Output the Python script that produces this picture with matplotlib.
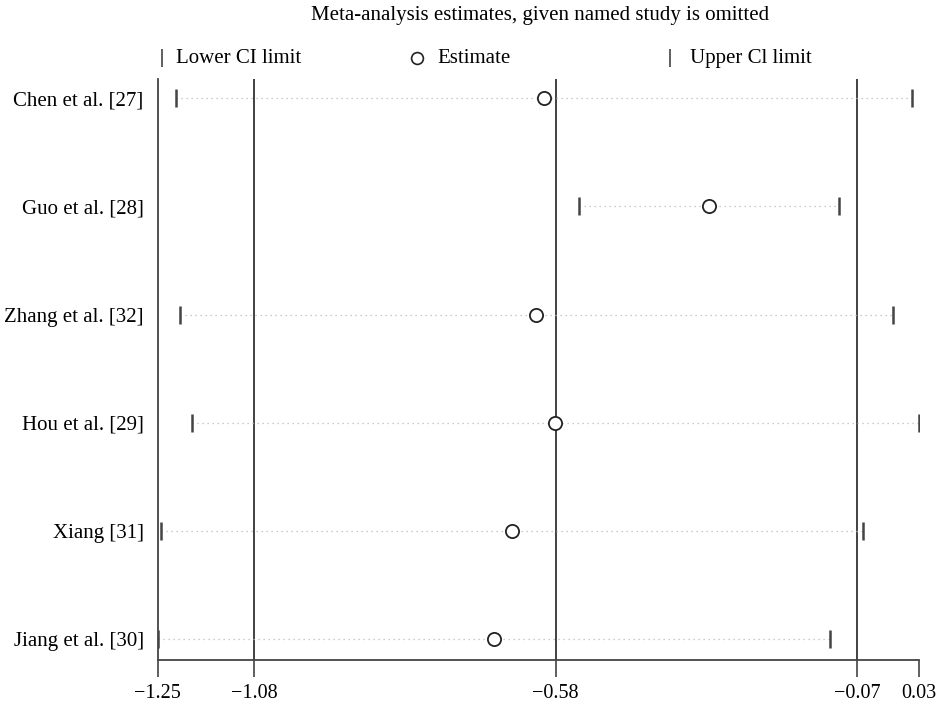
import numpy as np
import matplotlib
matplotlib.use("Agg")
import matplotlib.pyplot as plt

plt.rcParams['font.family'] = ['Liberation Serif', 'DejaVu Serif']

# studies, top to bottom
studies = ["Chen et al. [27]", "Guo et al. [28]", "Zhang et al. [32]",
           "Hou et al. [29]", "Xiang [31]", "Jiang et al. [30]"]
lower = [-1.219, -0.542, -1.213, -1.193, -1.245, -1.250]
estimate = [-0.601, -0.324, -0.614, -0.582, -0.655, -0.685]
upper = [0.0175, -0.105, -0.014, 0.029, -0.064, -0.120]

# overall estimate with CI (reference lines)
overall = [-1.088, -0.581, -0.0745]
tick_pos = [-1.25, -1.088, -0.581, -0.0745, 0.03]
tick_labels = ["\u22121.25", "\u22121.08", "\u22120.58", "\u22120.07", "0.03"]

fig = plt.figure(figsize=(9.38, 7.01), dpi=100)
ax = fig.add_axes([0.168, 0.0585, 0.812, 0.8285])

n = len(studies)
ypos = np.arange(n, 0, -1)

for v in overall:
    ax.axvline(v, color='#333333', lw=1.3, zorder=1)

for y, lo, est, up in zip(ypos, lower, estimate, upper):
    ax.plot([lo, up], [y, y], color='#bbbbbb', lw=0.9, ls=(0, (1, 3)), zorder=2)

ax.plot(lower, ypos, ls='none', marker='|', ms=13.5, mew=1.8, color='#444444', zorder=3)
ax.plot(upper, ypos, ls='none', marker='|', ms=13.5, mew=1.8, color='#444444', zorder=3)
ax.plot(estimate, ypos, ls='none', marker='o', ms=9.5, mfc='white', mec='#222222',
        mew=1.3, zorder=4)

ax.set_xlim(-1.25, 0.03)
ax.set_ylim(0.81, n + 0.176)
ax.set_xticks(tick_pos)
ax.set_xticklabels(tick_labels, fontsize=14.5)
ax.set_yticks(ypos)
ax.set_yticklabels(studies, fontsize=15)
ax.tick_params(axis='y', length=0, pad=10)
ax.tick_params(axis='x', length=12, width=1.2, color='#444444', pad=5)

for s in ['top', 'right']:
    ax.spines[s].set_visible(False)
for s in ['left', 'bottom']:
    ax.spines[s].set_color('#444444')
    ax.spines[s].set_linewidth(1.3)

# legend row
leg_y = 1.036
ax.plot([0.006], [leg_y], transform=ax.transAxes, marker='|', ms=13, mew=1.2,
        color='#444444', clip_on=False)
ax.text(0.024, leg_y, "Lower CI limit", transform=ax.transAxes, fontsize=15, va='center')
ax.plot([0.341], [leg_y], transform=ax.transAxes, marker='o', ms=8.5, mfc='white',
        mec='#222222', mew=1.2, clip_on=False)
ax.text(0.368, leg_y, "Estimate", transform=ax.transAxes, fontsize=15, va='center')
ax.plot([0.673], [leg_y], transform=ax.transAxes, marker='|', ms=13, mew=1.2,
        color='#444444', clip_on=False)
ax.text(0.699, leg_y, "Upper Cl limit", transform=ax.transAxes, fontsize=15, va='center')

fig.text(0.576, 0.978, "Meta-analysis estimates, given named study is omitted",
         ha='center', va='center', fontsize=15)

fig.savefig("out.png", dpi=100, facecolor='white')
